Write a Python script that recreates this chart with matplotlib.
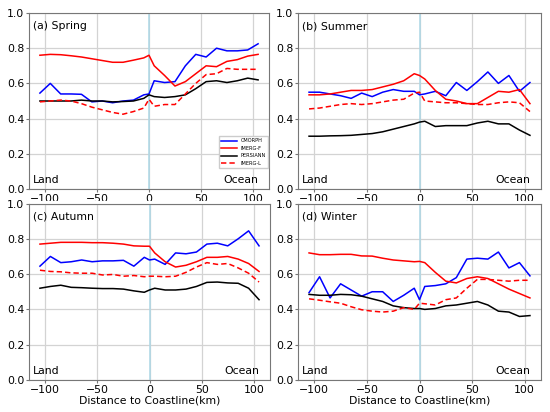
import numpy as np
import matplotlib
matplotlib.use("Agg")
import matplotlib.pyplot as plt
from matplotlib.patches import Rectangle

# distance to coastline (km): land side, coastline, ocean side
dist = [-105, -95, -85, -75, -65, -55, -45, -35, -25, -15, -5, 0,
        5, 15, 25, 35, 45, 55, 65, 75, 85, 95, 105]

# (a) Spring
spring_cmorph = [0.545, 0.60, 0.54, 0.54, 0.538, 0.495, 0.50, 0.49, 0.50, 0.505, 0.535, 0.54,
                 0.615, 0.605, 0.61, 0.70, 0.765, 0.75, 0.80, 0.785, 0.785, 0.79, 0.825]
spring_imergf = [0.76, 0.765, 0.763, 0.757, 0.75, 0.74, 0.73, 0.72, 0.72, 0.732, 0.745, 0.76,
                 0.70, 0.645, 0.585, 0.61, 0.655, 0.70, 0.695, 0.725, 0.735, 0.755, 0.765]
spring_persiann = [0.50, 0.50, 0.50, 0.50, 0.505, 0.50, 0.50, 0.495, 0.497, 0.50, 0.515, 0.535,
                   0.525, 0.52, 0.525, 0.535, 0.57, 0.61, 0.615, 0.605, 0.615, 0.63, 0.62]
spring_imergl = [0.495, 0.50, 0.505, 0.50, 0.485, 0.465, 0.45, 0.435, 0.425, 0.44, 0.46, 0.51,
                 0.47, 0.48, 0.48, 0.54, 0.60, 0.65, 0.655, 0.685, 0.68, 0.68, 0.68]

# (b) Summer
summer_cmorph = [0.55, 0.55, 0.54, 0.53, 0.515, 0.545, 0.525, 0.55, 0.565, 0.555, 0.555, 0.535,
                 0.54, 0.555, 0.53, 0.605, 0.56, 0.61, 0.665, 0.60, 0.645, 0.555, 0.605]
summer_imergf = [0.535, 0.535, 0.54, 0.55, 0.56, 0.56, 0.565, 0.58, 0.595, 0.615, 0.655, 0.645,
                 0.625, 0.56, 0.51, 0.50, 0.485, 0.485, 0.52, 0.555, 0.55, 0.565, 0.485]
summer_persiann = [0.30, 0.30, 0.302, 0.303, 0.305, 0.31, 0.315, 0.325, 0.34, 0.355, 0.37, 0.38,
                   0.385, 0.355, 0.36, 0.36, 0.36, 0.375, 0.385, 0.37, 0.37, 0.335, 0.305]
summer_imergl = [0.455, 0.46, 0.47, 0.48, 0.485, 0.48, 0.485, 0.495, 0.505, 0.51, 0.545, 0.55,
                 0.50, 0.495, 0.49, 0.49, 0.485, 0.48, 0.48, 0.49, 0.495, 0.49, 0.44]

# (c) Autumn
autumn_cmorph = [0.645, 0.70, 0.665, 0.67, 0.68, 0.67, 0.675, 0.675, 0.678, 0.645, 0.695, 0.68,
                 0.685, 0.655, 0.72, 0.715, 0.725, 0.77, 0.775, 0.76, 0.80, 0.845, 0.76]
autumn_imergf = [0.77, 0.775, 0.78, 0.78, 0.78, 0.778, 0.778, 0.775, 0.77, 0.76, 0.758, 0.758,
                 0.72, 0.67, 0.64, 0.65, 0.67, 0.695, 0.695, 0.70, 0.685, 0.66, 0.615]
autumn_persiann = [0.52, 0.53, 0.537, 0.525, 0.523, 0.52, 0.518, 0.518, 0.515, 0.505, 0.497, 0.51,
                   0.52, 0.51, 0.51, 0.515, 0.53, 0.553, 0.555, 0.55, 0.548, 0.52, 0.455]
autumn_imergl = [0.622, 0.615, 0.613, 0.607, 0.605, 0.605, 0.595, 0.598, 0.588, 0.592, 0.585, 0.588,
                 0.588, 0.585, 0.588, 0.61, 0.64, 0.665, 0.655, 0.66, 0.635, 0.605, 0.555]

# (d) Winter
winter_cmorph = [0.495, 0.585, 0.465, 0.545, 0.51, 0.475, 0.50, 0.50, 0.445, 0.48, 0.52, 0.455,
                 0.53, 0.535, 0.545, 0.58, 0.685, 0.69, 0.685, 0.725, 0.635, 0.665, 0.59]
winter_imergf = [0.72, 0.71, 0.71, 0.712, 0.712, 0.703, 0.702, 0.69, 0.68, 0.675, 0.67, 0.672,
                 0.665, 0.61, 0.56, 0.55, 0.575, 0.585, 0.575, 0.545, 0.515, 0.49, 0.465]
winter_persiann = [0.485, 0.48, 0.48, 0.485, 0.483, 0.475, 0.46, 0.445, 0.42, 0.41, 0.405, 0.405,
                   0.40, 0.405, 0.42, 0.425, 0.435, 0.445, 0.425, 0.39, 0.385, 0.36, 0.365]
winter_imergl = [0.46, 0.452, 0.443, 0.435, 0.415, 0.398, 0.39, 0.385, 0.39, 0.41, 0.40, 0.435,
                 0.432, 0.425, 0.455, 0.465, 0.52, 0.57, 0.57, 0.565, 0.56, 0.565, 0.565]

titles = ["(a) Spring", "(b) Summer", "(c) Autumn", "(d) Winter"]
season_data = [
    (spring_cmorph, spring_imergf, spring_persiann, spring_imergl),
    (summer_cmorph, summer_imergf, summer_persiann, summer_imergl),
    (autumn_cmorph, autumn_imergf, autumn_persiann, autumn_imergl),
    (winter_cmorph, winter_imergf, winter_persiann, winter_imergl),
]

W, H = 550, 412
FS = 7.8
fig = plt.figure(figsize=(W / 100, H / 100), dpi=100)

# axes boxes in pixels: left, right, top, bottom
boxes = [(29, 269, 13, 189), (298, 541, 13, 189),
         (29, 270, 203.5, 380), (298, 541, 203.5, 380)]

for i, (l, r, t, b) in enumerate(boxes):
    ax = fig.add_axes([l / W, 1 - b / H, (r - l) / W, (b - t) / H])
    ax.set_zorder(0 if i < 2 else 2)
    cm, imf, per, iml = season_data[i]
    ax.plot(dist, cm, color="blue", lw=1.1, label="CMORPH")
    ax.plot(dist, imf, color="red", lw=1.1, label="IMERG-F")
    ax.plot(dist, per, color="black", lw=1.1, label="PERSIANN")
    ax.plot(dist, iml, color="red", lw=1.1, ls="--", dashes=(3.5, 2), label="IMERG-L")
    ax.axvline(0, color="lightblue", lw=1.1, zorder=1)
    ax.set_xlim(-115.5, 115.5)
    ax.set_ylim(0, 1.0)
    ax.set_xticks([-100, -50, 0, 50, 100])
    ax.set_yticks(np.arange(0, 1.01, 0.2))
    ax.grid(True, color="#d3d3d3", lw=0.9)
    ax.set_axisbelow(True)
    ax.tick_params(labelsize=FS, color="#777777", length=2, pad=1.5)
    for s in ax.spines.values():
        s.set_color("#777777")
    ax.text(0.015, 0.925, titles[i], transform=ax.transAxes, fontsize=FS, va="center")
    ax.text(0.015, 0.05, "Land", transform=ax.transAxes, fontsize=FS, va="center")
    ax.text(0.955, 0.05, "Ocean", transform=ax.transAxes, fontsize=FS, va="center", ha="right")
    if i >= 2:
        ax.set_xlabel("Distance to Coastline(km)", fontsize=FS, labelpad=0.5)
    if i == 0:
        ax.legend(loc="lower right", bbox_to_anchor=(0.995, 0.12), borderaxespad=0,
                  fontsize=3.6, handlelength=3.2, framealpha=1, edgecolor="#cccccc",
                  fancybox=False)

# bottom row pasted over the top row tick labels
fig.add_artist(Rectangle((0, 0), 1, 1 - 201 / H, transform=fig.transFigure,
                         facecolor="white", edgecolor="none", zorder=1))

fig.savefig("out.png", dpi=100)
